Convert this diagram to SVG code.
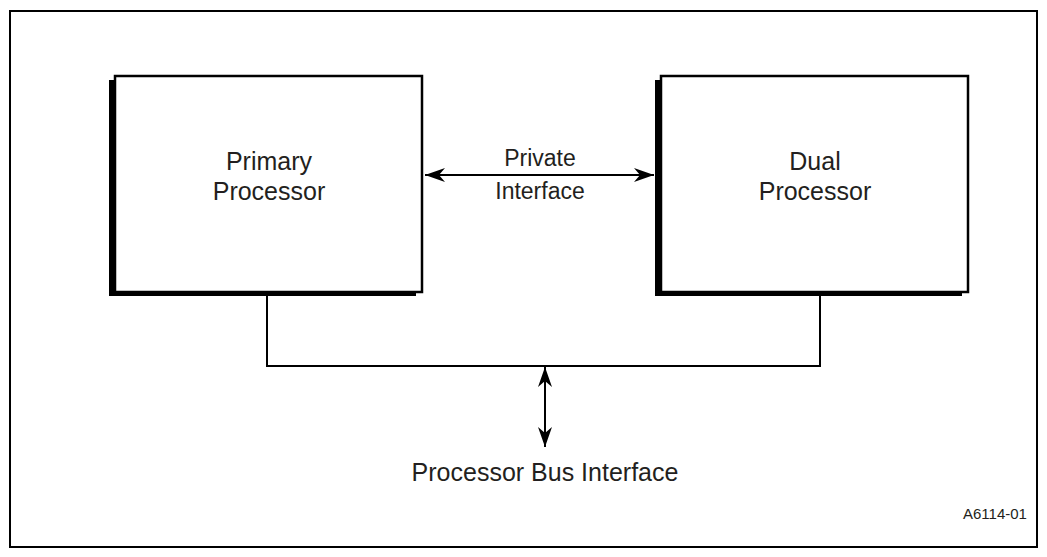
<svg xmlns="http://www.w3.org/2000/svg" width="1047" height="557" viewBox="0 0 1047 557">
  <style>
    .frame { fill: none; stroke: #000; stroke-width: 2; }
    .shadow { fill: #000; }
    .box { fill: #fff; stroke: #000; stroke-width: 2.5; }
    .label { font-family: "Liberation Sans", Arial, sans-serif; fill: #231f20; text-anchor: middle; }
    .big { font-size: 25px; }
    .mid { font-size: 23px; }
    .code { font-family: "Liberation Sans", Arial, sans-serif; fill: #231f20; font-size: 15px; }
    .wire { fill: none; stroke: #000; stroke-width: 2; }
  </style>
  <defs>
    <marker id="head" viewBox="0 0 20 14" refX="20" refY="7" markerWidth="20" markerHeight="14" markerUnits="userSpaceOnUse" orient="auto-start-reverse">
      <path d="M0,0 L20,7 L0,14 L6,7 z" fill="#000"/>
    </marker>
  </defs>

  <rect width="1047" height="557" fill="#fff"/>
  <rect class="frame" x="10" y="11" width="1027" height="536"/>

  <g id="primary-processor">
    <rect class="shadow" x="109" y="80" width="307" height="216"/>
    <rect class="box" x="115" y="76" width="307" height="216"/>
    <text class="label big" x="269" y="170">Primary</text>
    <text class="label big" x="269" y="200">Processor</text>
  </g>

  <g id="dual-processor">
    <rect class="shadow" x="655" y="80" width="307" height="216"/>
    <rect class="box" x="661" y="76" width="307" height="216"/>
    <text class="label big" x="815" y="170">Dual</text>
    <text class="label big" x="815" y="200">Processor</text>
  </g>

  <g id="connectors">
    <line class="wire" x1="425" y1="175" x2="654" y2="175" marker-start="url(#head)" marker-end="url(#head)"/>
    <polyline class="wire" points="267,293 267,366 820,366 820,293"/>
    <line class="wire" x1="545" y1="367" x2="545" y2="447" marker-start="url(#head)" marker-end="url(#head)"/>
  </g>

  <g id="private-interface-label">
    <text class="label mid" x="540" y="166">Private</text>
    <text class="label mid" x="540" y="199">Interface</text>
  </g>

  <g id="bus-interface-label">
    <text class="label big" x="545" y="481">Processor Bus Interface</text>
  </g>

  <text class="code" x="963" y="519">A6114-01</text>
</svg>
